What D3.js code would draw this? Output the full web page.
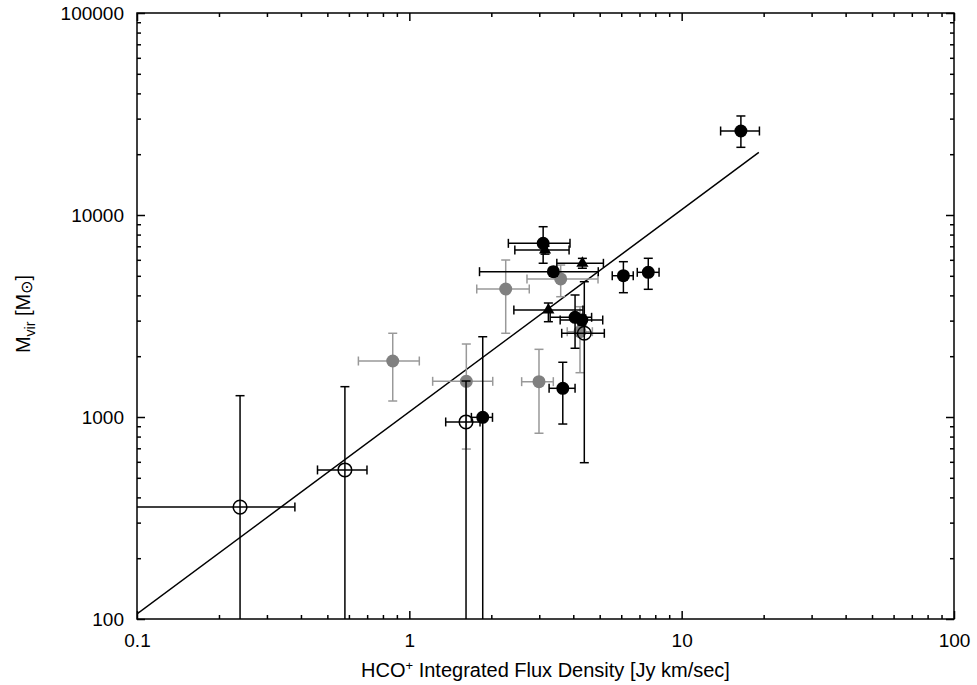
<!DOCTYPE html>
<html>
<head>
<meta charset="utf-8">
<script src="https://cdn.jsdelivr.net/npm/d3@7"></script>
<style>
  body { margin: 0; background: #fff; }
  svg { display: block; font-family: "Liberation Sans", Arial, Helvetica, sans-serif; }
</style>
</head>
<body>
<div id="chart"></div>
<script>
// rows: [flux, fluxLo, fluxHi, mass, massLo, massHi]
const blackPoints = [
    [16.5, 13.9, 19.3, 26050, 21630, 30920],
    [3.10, 2.31, 3.89, 7240, 5770, 8750],
    [3.38, 1.81, 4.94, 5240, 4980, 5500],
    [6.11, 5.56, 6.64, 5005, 4124, 5873],
    [7.54, 6.87, 8.26, 5203, 4287, 6105],
    [4.06, 3.29, 4.67, 3116, 2189, 4018],
    [4.30, 3.58, 5.13, 3021, 2850, 3200],
    [3.66, 3.26, 4.06, 1387, 923, 1866],
    [1.86, 1.69, 2.02, 996, 10, 2497],
];
const trianglePoints = [
    [3.15, 2.44, 3.86, 6708, 6400, 7000],
    [4.32, 3.48, 5.16, 5766, 5450, 6100],
    [3.24, 2.42, 4.34, 3385, 2963, 3667],
];
const grayPoints = [
    [0.869, 0.650, 1.088, 1893, 1200, 2597],
    [1.619, 1.218, 2.024, 1502, 694, 2298],
    [2.993, 2.585, 3.378, 1496, 831, 2163],
    [2.259, 1.768, 2.757, 4302, 2597, 5986],
    [3.596, 2.704, 4.93, 4823, 3940, 5653],
    [4.233, 3.8, 4.7, 2644, 1657, 3516],
];
const openPoints = [
    [0.239, 0.05, 0.380, 358, 10, 1275],
    [0.580, 0.460, 0.699, 547, 10, 1413],
    [1.615, 1.360, 1.818, 945, 10, 1507],
    [4.39, 3.627, 5.20, 2597, 594, 4675],
];
const fitFlux = [0.1, 19.2];
const fitMass = [106, 20400];

const xTicks = [0.1, 1, 10, 100];
const yTicks = [100, 1000, 10000, 100000];

const width = 977;
const height = 685;
const margin = { top: 13, right: 23, bottom: 66, left: 137 };

const svg = d3.select('#chart').append('svg').attr('width', width).attr('height', height);

const xScale = d3.scaleLog().domain([0.1, 100]).range([margin.left, width - margin.right]);
const yScale = d3.scaleLog().domain([100, 100000]).range([height - margin.bottom, margin.top]);

// minor ticks for each decade
function minorTicks(lo, hi) {
    let out = [];
    for (let d = lo; d < hi; d *= 10) {
        for (let k = 2; k <= 9; k++) out.push(d * k);
    }
    return out;
}
const xMinor = minorTicks(0.1, 100);
const yMinor = minorTicks(100, 100000);

const fmt = (d) => String(d);

function addAxis(axisFn, scale, pos, ticks, size, labels) {
    const g = svg.append('g').attr('transform', pos)
        .call(axisFn(scale).tickValues(ticks).tickSize(-size).tickPadding(size + (labels ? 1 : 0))
            .tickFormat(labels ? fmt : ''));
    g.select('.domain').remove();
    g.selectAll('line').attr('stroke', '#000').attr('stroke-width', 1.5);
    g.selectAll('text').attr('fill', '#000').style('font-size', '19px');
    return g;
}

const bottomY = height - margin.bottom;
const rightX = width - margin.right;

const xb = addAxis(d3.axisBottom, xScale, `translate(0,${bottomY})`, xTicks, 8, true);
xb.selectAll('text').attr('dy', null).attr('y', 28);
addAxis(d3.axisBottom, xScale, `translate(0,${bottomY})`, xMinor, 4, false);
addAxis(d3.axisTop, xScale, `translate(0,${margin.top})`, xTicks, 8, false);
addAxis(d3.axisTop, xScale, `translate(0,${margin.top})`, xMinor, 4, false);

const yl = addAxis(d3.axisLeft, yScale, `translate(${margin.left},0)`, yTicks, 8, true);
yl.selectAll('text').attr('x', -13);
addAxis(d3.axisLeft, yScale, `translate(${margin.left},0)`, yMinor, 4, false);
addAxis(d3.axisRight, yScale, `translate(${rightX},0)`, yTicks, 8, false);
addAxis(d3.axisRight, yScale, `translate(${rightX},0)`, yMinor, 4, false);

// frame
svg.append('rect')
    .attr('x', margin.left).attr('y', margin.top)
    .attr('width', rightX - margin.left).attr('height', bottomY - margin.top)
    .attr('fill', 'none').attr('stroke', '#000').attr('stroke-width', 1.5);

svg.append('clipPath').attr('id', 'plot-clip').append('rect')
    .attr('x', margin.left).attr('y', margin.top)
    .attr('width', rightX - margin.left).attr('height', bottomY - margin.top);

const plot = svg.append('g').attr('clip-path', 'url(#plot-clip)');

// fit line
plot.append('line')
    .attr('x1', xScale(fitFlux[0])).attr('y1', yScale(fitMass[0]))
    .attr('x2', xScale(fitFlux[1])).attr('y2', yScale(fitMass[1]))
    .attr('stroke', '#000').attr('stroke-width', 1.5);

const cap = 4.5;

function drawErrors(rows, color) {
    const g = plot.append('g').attr('stroke', color).attr('stroke-width', 1.5).attr('fill', 'none');
    rows.forEach((r) => {
        const [x, xlo, xhi, y, ylo, yhi] = r;
        const cx = xScale(x), cy = yScale(y);
        g.append('line').attr('x1', xScale(xlo)).attr('x2', xScale(xhi)).attr('y1', cy).attr('y2', cy);
        g.append('line').attr('x1', xScale(xlo)).attr('x2', xScale(xlo)).attr('y1', cy - cap).attr('y2', cy + cap);
        g.append('line').attr('x1', xScale(xhi)).attr('x2', xScale(xhi)).attr('y1', cy - cap).attr('y2', cy + cap);
        g.append('line').attr('x1', cx).attr('x2', cx).attr('y1', yScale(ylo)).attr('y2', yScale(yhi));
        g.append('line').attr('x1', cx - cap).attr('x2', cx + cap).attr('y1', yScale(ylo)).attr('y2', yScale(ylo));
        g.append('line').attr('x1', cx - cap).attr('x2', cx + cap).attr('y1', yScale(yhi)).attr('y2', yScale(yhi));
    });
}

// gray series
drawErrors(grayPoints, '#999');
plot.append('g').selectAll('circle').data(grayPoints).join('circle')
    .attr('cx', (d) => xScale(d[0])).attr('cy', (d) => yScale(d[3]))
    .attr('r', 6.5).attr('fill', '#808080');

// black filled circles
drawErrors(blackPoints, '#000');
plot.append('g').selectAll('circle').data(blackPoints).join('circle')
    .attr('cx', (d) => xScale(d[0])).attr('cy', (d) => yScale(d[3]))
    .attr('r', 6.5).attr('fill', '#000');

// triangles
drawErrors(trianglePoints, '#000');
const tri = d3.symbol().type(d3.symbolTriangle).size(64);
plot.append('g').selectAll('path').data(trianglePoints).join('path')
    .attr('d', tri)
    .attr('transform', (d) => `translate(${xScale(d[0])},${yScale(d[3])})`)
    .attr('fill', '#000');

// open circles
drawErrors(openPoints, '#000');
plot.append('g').selectAll('circle').data(openPoints).join('circle')
    .attr('cx', (d) => xScale(d[0])).attr('cy', (d) => yScale(d[3]))
    .attr('r', 6.8).attr('fill', 'none').attr('stroke', '#000').attr('stroke-width', 1.5);

// axis titles
const xt = svg.append('text')
    .attr('x', (margin.left + rightX) / 2).attr('y', 677)
    .attr('text-anchor', 'middle').style('font-size', '20px').attr('fill', '#000');
xt.append('tspan').text('HCO');
xt.append('tspan').attr('baseline-shift', '7').style('font-size', '13px').text('+');
xt.append('tspan').text(' Integrated Flux Density [Jy km/sec]');

const yt = svg.append('text')
    .attr('transform', `translate(30,${314}) rotate(-90)`)
    .attr('text-anchor', 'middle').style('font-size', '20px').attr('fill', '#000');
yt.append('tspan').text('M');
yt.append('tspan').attr('baseline-shift', '-5').style('font-size', '14px').text('vir');
yt.append('tspan').text(' [M');
yt.append('tspan').attr('baseline-shift', '-2').style('font-size', '16px').attr('font-family', 'DejaVu Sans').text('⊙');
yt.append('tspan').text(']');
</script>
</body>
</html>
